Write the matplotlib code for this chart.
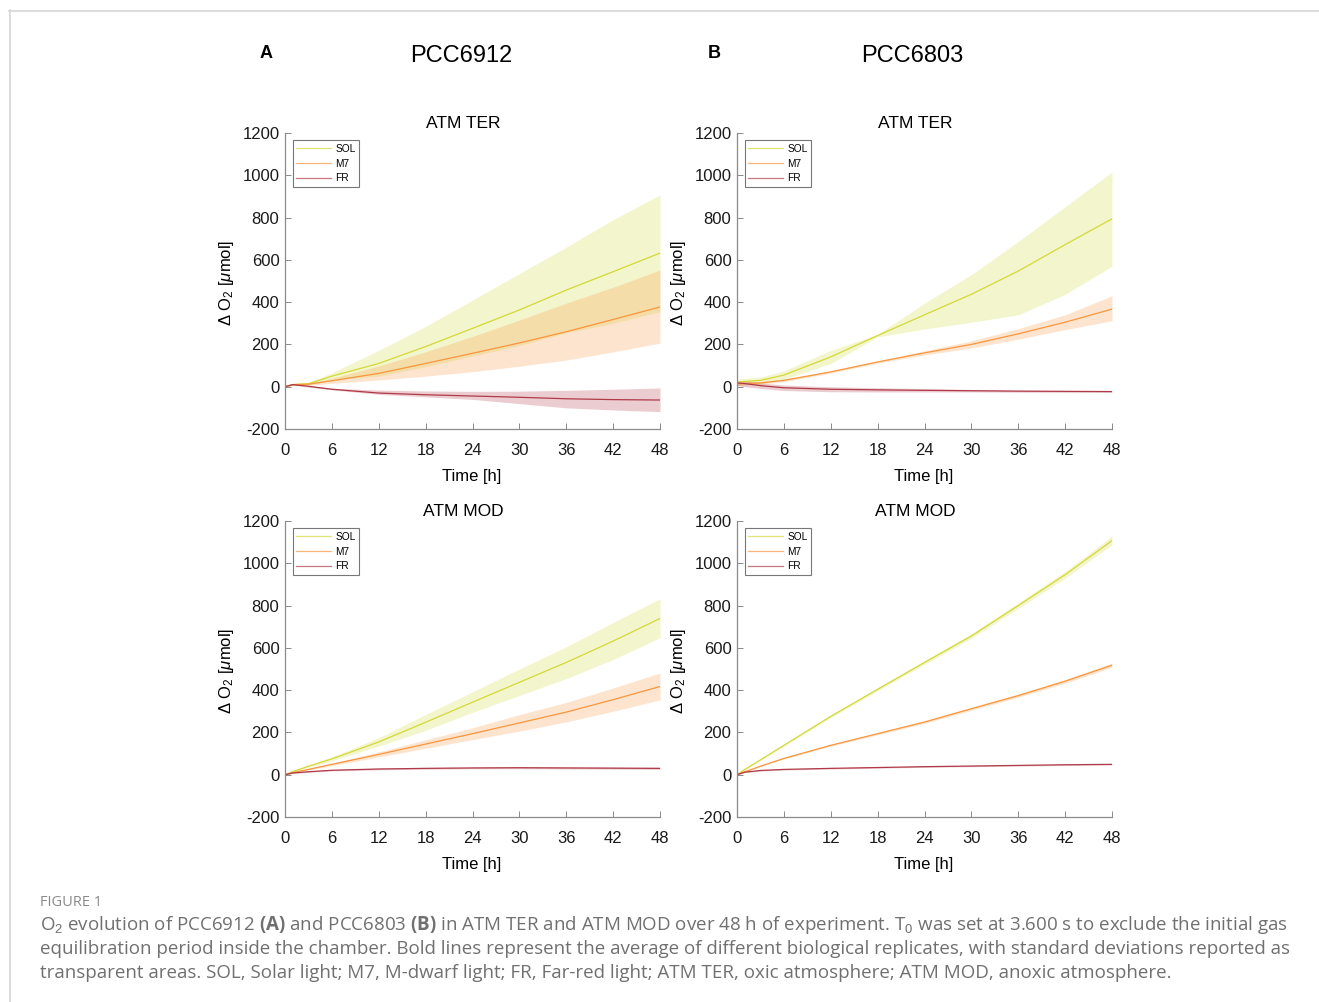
import numpy as np
import matplotlib
matplotlib.use('Agg')
import matplotlib.pyplot as plt
from matplotlib.lines import Line2D

plt.rcParams['font.family'] = ['Liberation Sans', 'DejaVu Sans']
plt.rcParams['mathtext.fontset'] = 'custom'
plt.rcParams['mathtext.rm'] = 'Liberation Sans'
plt.rcParams['mathtext.it'] = 'Liberation Sans:italic'
plt.rcParams['mathtext.bf'] = 'Open Sans:bold'
plt.rcParams['axes.unicode_minus'] = False

# --- data (time in h, delta O2 in umol) ---
t = [0, 1, 3, 6, 12, 18, 24, 30, 36, 42, 48]

# PCC6912, ATM TER
ter_6912_sol = [0, 10, 14, 50, 110, 190, 276, 363, 457, 544, 632]
ter_6912_sol_lo = [0, 6, 8, 34, 50, 95, 145, 195, 255, 300, 355]
ter_6912_sol_hi = [0, 14, 20, 66, 172, 285, 410, 535, 660, 790, 907]
ter_6912_m7 = [0, 10, 12, 28, 63, 110, 158, 207, 260, 318, 377]
ter_6912_m7_lo = [0, 6, 6, 16, 32, 50, 71, 97, 126, 165, 206]
ter_6912_m7_hi = [0, 14, 18, 40, 98, 165, 238, 315, 395, 470, 552]
ter_6912_fr = [0, 10, 2, -12, -30, -38, -44, -50, -57, -61, -63]
ter_6912_fr_lo = [0, 7, -2, -15, -36, -48, -60, -80, -100, -110, -118]
ter_6912_fr_hi = [0, 13, 6, -7, -16, -20, -22, -21, -17, -12, -6]

# PCC6803, ATM TER
ter_6803_sol = [20, 25, 30, 55, 141, 242, 340, 437, 547, 672, 794]
ter_6803_sol_lo = [5, 10, 12, 35, 110, 236, 273, 305, 340, 437, 570]
ter_6803_sol_hi = [35, 40, 45, 75, 172, 248, 395, 530, 687, 851, 1016]
ter_6803_m7 = [15, 15, 18, 30, 70, 117, 160, 200, 250, 305, 367]
ter_6803_m7_lo = [5, 8, 12, 24, 64, 112, 150, 183, 225, 270, 312]
ter_6803_m7_hi = [25, 22, 24, 36, 76, 122, 170, 217, 275, 340, 430]
ter_6803_fr = [18, 15, 5, -5, -12, -15, -17, -19, -21, -22, -23]
ter_6803_fr_lo = [5, 0, -8, -18, -24, -25, -25, -25, -26, -27, -27]
ter_6803_fr_hi = [30, 28, 18, 8, 0, -5, -9, -13, -16, -18, -19]

# PCC6912, ATM MOD
mod_6912_sol = [0, 15, 40, 75, 155, 248, 343, 437, 531, 632, 739]
mod_6912_sol_lo = [0, 13, 35, 66, 135, 210, 295, 375, 455, 545, 648]
mod_6912_sol_hi = [0, 17, 45, 84, 175, 285, 392, 500, 605, 720, 832]
mod_6912_m7 = [0, 10, 25, 49, 96, 145, 194, 245, 296, 355, 417]
mod_6912_m7_lo = [0, 9, 22, 43, 84, 125, 166, 206, 250, 300, 354]
mod_6912_m7_hi = [0, 11, 28, 55, 108, 165, 222, 284, 342, 410, 481]
mod_6912_fr = [0, 8, 14, 21, 27, 30, 32, 33, 32, 31, 30]
mod_6912_fr_lo = [0, 6, 11, 18, 23, 26, 28, 28, 27, 26, 25]
mod_6912_fr_hi = [0, 10, 17, 24, 31, 34, 36, 38, 37, 36, 35]

# PCC6803, ATM MOD
mod_6803_sol = [0, 25, 70, 139, 276, 404, 531, 656, 800, 946, 1107]
mod_6803_sol_lo = [0, 23, 67, 135, 270, 397, 522, 645, 787, 930, 1088]
mod_6803_sol_hi = [0, 27, 73, 143, 282, 411, 540, 667, 813, 962, 1128]
mod_6803_m7 = [0, 14, 40, 77, 139, 194, 249, 312, 374, 442, 518]
mod_6803_m7_lo = [0, 13, 38, 74, 135, 189, 243, 305, 366, 433, 508]
mod_6803_m7_hi = [0, 15, 42, 80, 143, 199, 255, 319, 382, 451, 528]
mod_6803_fr = [0, 12, 20, 25, 30, 34, 38, 41, 44, 47, 49]
mod_6803_fr_lo = [0, 10, 17, 22, 27, 31, 35, 38, 41, 44, 46]
mod_6803_fr_hi = [0, 14, 23, 28, 33, 37, 41, 44, 47, 50, 52]

labels = ['SOL', 'M7', 'FR']
colors = ['#d3d936', '#f8963e', '#b03a48']

W, H = 1319, 1002


def fx(px):
    return px / W


def fy(py):
    return 1 - py / H


fig = plt.figure(figsize=(W / 100, H / 100), dpi=100)

# light frame around the figure
fig.add_artist(Line2D([fx(9), 1], [fy(10.5), fy(10.5)], color='#d6d6d6', lw=1.2))
fig.add_artist(Line2D([fx(9.5), fx(9.5)], [fy(10), 0], color='#d6d6d6', lw=1.2))


def draw_panel(left_px, top_px, series, title):
    ax = fig.add_axes([fx(left_px), fy(top_px + 296), 375 / W, 296 / H])
    for (mean, lo, hi), lab, c in zip(series, labels, colors):
        ax.fill_between(t, lo, hi, color=c, alpha=0.25, lw=0)
        ax.plot(t, mean, color=c, lw=0.9, label=lab)
    ax.set_xlim(0, 48)
    ax.set_ylim(-200, 1200)
    ax.set_xticks(np.arange(0, 49, 6))
    ax.set_yticks(np.arange(-200, 1201, 200))
    for s in ['top', 'right']:
        ax.spines[s].set_visible(False)
    for s in ['left', 'bottom']:
        ax.spines[s].set_color('#8a8a8a')
        ax.spines[s].set_linewidth(0.9)
    ax.tick_params(direction='in', length=4, width=0.7, color='#8a8a8a',
                   labelsize=12, labelcolor='#1a1a1a')
    ax.tick_params(axis='x', pad=10)
    ax.tick_params(axis='y', pad=4)
    leg = ax.legend(loc='upper left', bbox_to_anchor=(0.02, 0.975), fontsize=7.3,
                    frameon=True, fancybox=False, edgecolor='#555555',
                    handlelength=3.4, handletextpad=0.5, labelspacing=0.45,
                    borderpad=0.35, borderaxespad=0)
    leg.get_frame().set_linewidth(0.8)
    for ln in leg.get_lines():
        ln.set_alpha(0.7)
    cx = left_px + 187
    fig.text(fx(cx - 9), fy(top_px - 10), title, ha='center', va='center', fontsize=12.5)
    fig.text(fx(cx), fy(top_px + 343), 'Time [h]', ha='center', va='center', fontsize=12)
    fig.text(fx(left_px - 59), fy(top_px + 150), r'$\Delta$ O$_2$ [$\mu$mol]',
             rotation=90, ha='center', va='center', fontsize=12)
    return ax


draw_panel(285, 133, [(ter_6912_sol, ter_6912_sol_lo, ter_6912_sol_hi),
                      (ter_6912_m7, ter_6912_m7_lo, ter_6912_m7_hi),
                      (ter_6912_fr, ter_6912_fr_lo, ter_6912_fr_hi)], 'ATM TER')
draw_panel(737, 133, [(ter_6803_sol, ter_6803_sol_lo, ter_6803_sol_hi),
                      (ter_6803_m7, ter_6803_m7_lo, ter_6803_m7_hi),
                      (ter_6803_fr, ter_6803_fr_lo, ter_6803_fr_hi)], 'ATM TER')
draw_panel(285, 521, [(mod_6912_sol, mod_6912_sol_lo, mod_6912_sol_hi),
                      (mod_6912_m7, mod_6912_m7_lo, mod_6912_m7_hi),
                      (mod_6912_fr, mod_6912_fr_lo, mod_6912_fr_hi)], 'ATM MOD')
draw_panel(737, 521, [(mod_6803_sol, mod_6803_sol_lo, mod_6803_sol_hi),
                      (mod_6803_m7, mod_6803_m7_lo, mod_6803_m7_hi),
                      (mod_6803_fr, mod_6803_fr_lo, mod_6803_fr_hi)], 'ATM MOD')

# panel letters and strain titles
fig.text(fx(266), fy(53), 'A', ha='center', va='center', fontsize=13, fontweight='bold')
fig.text(fx(714), fy(53), 'B', ha='center', va='center', fontsize=13, fontweight='bold')
fig.text(fx(461), fy(56), 'PCC6912', ha='center', va='center', fontsize=17)
fig.text(fx(912), fy(56), 'PCC6803', ha='center', va='center', fontsize=17)

# caption
cap_font = ['Open Sans', 'DejaVu Sans']
fig.text(fx(40), fy(902), 'FIGURE 1', ha='left', va='center', fontsize=10.5,
         color='#8a8a8a', family=cap_font)
caption = [
    r'O$_2$ evolution of PCC6912 $\mathbf{(A)}$ and PCC6803 $\mathbf{(B)}$ in ATM TER and ATM MOD '
    r'over 48 h of experiment. T$_0$ was set at 3.600 s to exclude the initial gas',
    'equilibration period inside the chamber. Bold lines represent the average of different '
    'biological replicates, with standard deviations reported as',
    'transparent areas. SOL, Solar light; M7, M-dwarf light; FR, Far-red light; ATM TER, '
    'oxic atmosphere; ATM MOD, anoxic atmosphere.',
]
for i, line in enumerate(caption):
    fig.text(fx(40), fy(925 + 24 * i), line, ha='left', va='center', fontsize=13.5,
             color='#707070', family=cap_font)

fig.savefig('out.png', dpi=100)
